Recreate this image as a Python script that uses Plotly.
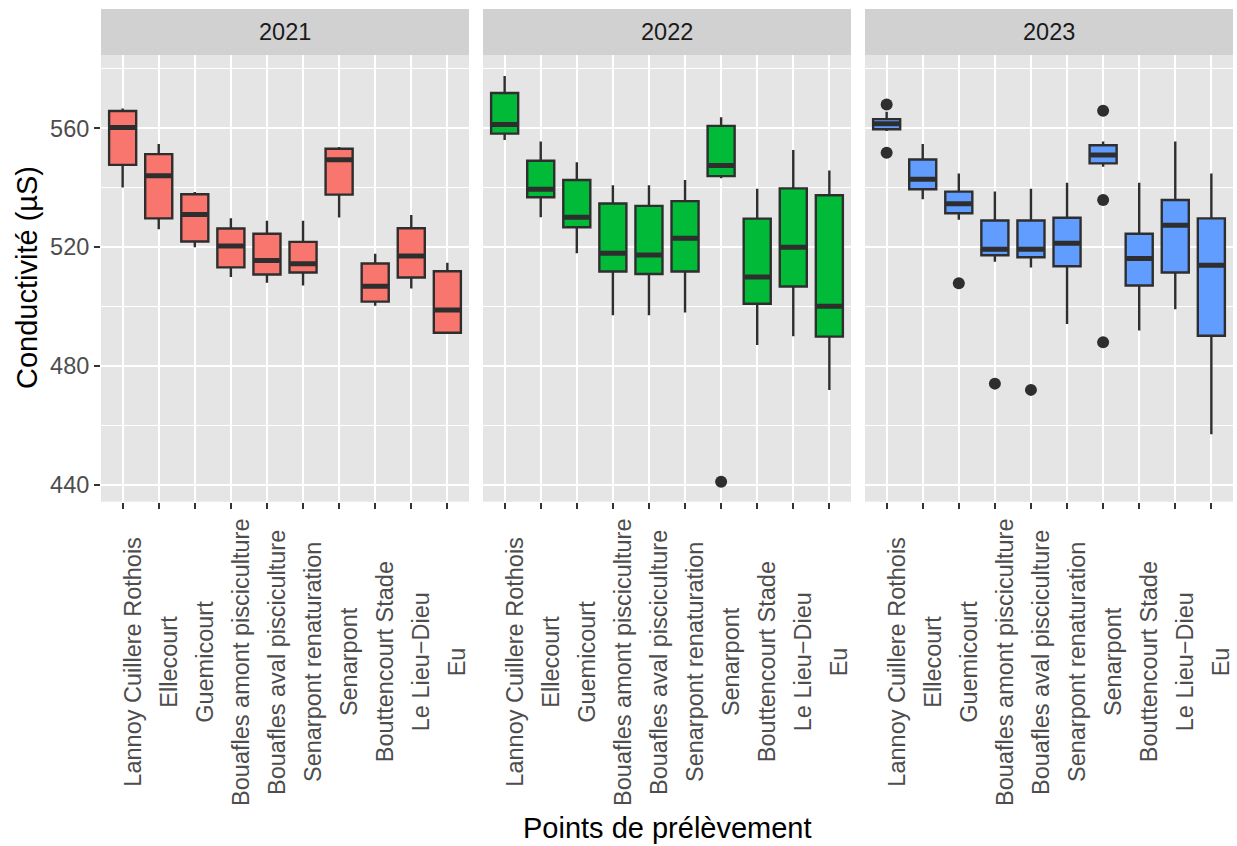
import plotly.graph_objects as go

# ---------------- data ----------------
stations = ["Lannoy Cuillere Rothois", "Ellecourt", "Guemicourt",
            "Bouafles amont pisciculture", "Bouafles aval pisciculture",
            "Senarpont renaturation", "Senarpont", "Bouttencourt Stade",
            "Le Lieu\u2212Dieu", "Eu"]
years = ["2021", "2022", "2023"]
colors = ["#F8766D", "#00BA38", "#619CFF"]

low_2021 = [540.1, 526.0, 520.0, 510.0, 508.0, 507.1, 530.0, 500.3, 506.1, 491.2]
q1_2021 = [547.7, 529.7, 521.9, 513.2, 510.8, 511.5, 537.7, 501.7, 509.8, 491.2]
med_2021 = [560.3, 544.0, 531.0, 520.4, 515.5, 514.4, 549.4, 506.9, 517.0, 498.9]
q3_2021 = [565.8, 551.3, 537.8, 526.3, 524.5, 521.8, 553.1, 514.5, 526.4, 511.9]
high_2021 = [566.7, 554.7, 538.6, 529.7, 528.9, 528.9, 553.7, 517.8, 530.8, 514.8]

low_2022 = [556.1, 530.1, 518.0, 497.1, 497.1, 498.0, 543.2, 487.1, 490.0, 472.0]
q1_2022 = [558.2, 536.8, 526.7, 511.8, 511.0, 511.8, 543.9, 501.0, 506.8, 489.9]
med_2022 = [561.3, 539.5, 530.1, 518.0, 517.4, 523.0, 547.5, 510.0, 520.0, 500.1]
q3_2022 = [571.9, 549.1, 542.6, 534.7, 533.9, 535.5, 560.8, 529.6, 539.8, 537.5]
high_2022 = [577.6, 555.6, 548.6, 540.8, 540.8, 542.6, 563.7, 539.7, 552.7, 545.8]

low_2023 = [559.1, 536.1, 529.2, 515.1, 513.2, 494.2, 547.1, 492.0, 499.1, 457.1]
q1_2023 = [559.7, 539.5, 531.4, 517.3, 516.6, 513.6, 548.2, 507.1, 511.5, 490.2]
med_2023 = [561.5, 542.9, 534.6, 519.3, 519.3, 521.3, 551.0, 516.2, 527.4, 513.9]
q3_2023 = [563.1, 549.5, 538.7, 529.0, 529.0, 529.9, 554.3, 524.5, 535.9, 529.7]
high_2023 = [565.6, 554.7, 544.8, 538.7, 539.7, 541.7, 555.6, 541.7, 555.6, 544.8]

# outliers: (station index, value)
out_idx_2021, out_val_2021 = [], []
out_idx_2022, out_val_2022 = [6], [441.1]
out_idx_2023 = [0, 0, 2, 3, 4, 6, 6, 6]
out_val_2023 = [568.0, 551.8, 507.9, 474.1, 472.0, 565.9, 535.9, 488.0]

y_ticks = [440, 480, 520, 560]
y_minor = [460, 500, 540, 580]
y_title = "Conductivit\u00e9 (\u00b5S)"
x_title = "Points de pr\u00e9l\u00e8vement"

stats = [
    (low_2021, q1_2021, med_2021, q3_2021, high_2021, out_idx_2021, out_val_2021),
    (low_2022, q1_2022, med_2022, q3_2022, high_2022, out_idx_2022, out_val_2022),
    (low_2023, q1_2023, med_2023, q3_2023, high_2023, out_idx_2023, out_val_2023),
]

# ---------------- layout geometry ----------------
W, H = 1237, 846
panels_px = [(101, 469), (483, 851), (865, 1233)]
panel_top, panel_bot = 55, 501.7
strip_top = 9
FONT = "Liberation Sans, Arial, sans-serif"
BOX_W = 0.75
LINE = "#2E2E2E"

fig = go.Figure()
idx = list(range(len(stations)))

for p, (yr, col, st) in enumerate(zip(years, colors, stats)):
    low, q1, med, q3, high, oi, ov = st
    xa = "x" if p == 0 else f"x{p+1}"
    ya = "y" if p == 0 else f"y{p+1}"
    fig.add_trace(go.Box(
        x=idx, q1=q1, median=med, q3=q3, lowerfence=low, upperfence=high,
        width=BOX_W, whiskerwidth=0, fillcolor=col,
        line=dict(color=LINE, width=2.4), boxpoints=False,
        xaxis=xa, yaxis=ya, showlegend=False, hoverinfo="skip"))
    # thick median segments
    mx, my = [], []
    for i, m in zip(idx, med):
        mx += [i - BOX_W / 2 + 0.02, i + BOX_W / 2 - 0.02, None]
        my += [m, m, None]
    fig.add_trace(go.Scatter(x=mx, y=my, mode="lines",
                             line=dict(color=LINE, width=5),
                             xaxis=xa, yaxis=ya, showlegend=False, hoverinfo="skip"))
    if oi:
        fig.add_trace(go.Scatter(x=oi, y=ov, mode="markers",
                                 marker=dict(color=LINE, size=12),
                                 xaxis=xa, yaxis=ya, showlegend=False, hoverinfo="skip"))

layout = dict(
    width=W, height=H,
    margin=dict(l=0, r=0, t=0, b=0),
    paper_bgcolor="white", plot_bgcolor="#E5E5E5",
    font=dict(family=FONT, color="#4D4D4D"),
    shapes=[], annotations=[],
)

yd = [1 - panel_bot / H, 1 - panel_top / H]
for p, (x0, x1) in enumerate(panels_px):
    sfx = "" if p == 0 else str(p + 1)
    layout[f"xaxis{sfx}"] = dict(
        domain=[x0 / W, x1 / W], range=[-0.6, len(stations) - 0.4],
        tickmode="array", tickvals=idx, showticklabels=False,
        ticks="outside", ticklen=6, tickwidth=2, tickcolor="#333333",
        showgrid=True, gridcolor="white", gridwidth=2.2,
        zeroline=False, showline=False,
        anchor="y" if p == 0 else f"y{p+1}")
    ydict = dict(
        domain=yd, range=[434.38, 584.66],
        tickmode="array", tickvals=y_ticks,
        showgrid=True, gridcolor="white", gridwidth=2.2,
        minor=dict(tickmode="array", tickvals=y_minor, showgrid=True,
                   gridcolor="white", gridwidth=1.1, ticks=""),
        zeroline=False, showline=False,
        anchor="x" if p == 0 else f"x{p+1}")
    if p == 0:
        ydict.update(ticks="outside", ticklen=6, tickwidth=2, tickcolor="#333333",
                     tickfont=dict(size=23.5, color="#4D4D4D", family=FONT))
    else:
        ydict.update(matches="y", showticklabels=False, ticks="")
    layout[f"yaxis{sfx}"] = ydict

    # strip
    layout["shapes"].append(dict(type="rect", xref="paper", yref="paper",
                                 x0=x0 / W, x1=x1 / W,
                                 y0=1 - panel_top / H, y1=1 - strip_top / H,
                                 fillcolor="#D1D1D1", line=dict(width=0), layer="below"))
    layout["annotations"].append(dict(
        text=years[p], xref="paper", yref="paper",
        x=(x0 + x1) / 2 / W, y=1 - (strip_top + panel_top) / 2 / H,
        xanchor="center", yanchor="middle", showarrow=False,
        font=dict(size=23.5, color="#1A1A1A", family=FONT)))
    # rotated category labels (centered)
    for i, name in enumerate(stations):
        layout["annotations"].append(dict(
            text=name, xref="x" if p == 0 else f"x{p+1}", yref="paper",
            x=i, y=1 - 662 / H, xanchor="center", yanchor="middle",
            textangle=-90, showarrow=False, xshift=10,
            font=dict(size=23.5, color="#4D4D4D", family=FONT)))

layout["annotations"].append(dict(
    text=y_title, xref="paper", yref="paper", x=27 / W, y=1 - 278 / H,
    xanchor="center", yanchor="middle", textangle=-90, showarrow=False,
    font=dict(size=29, color="black", family=FONT)))
layout["annotations"].append(dict(
    text=x_title, xref="paper", yref="paper", x=667 / W, y=1 - 828 / H,
    xanchor="center", yanchor="middle", showarrow=False,
    font=dict(size=29, color="black", family=FONT)))

fig.update_layout(**layout)
fig.write_html("out.html", config={"displayModeBar": False},
               post_script="document.body.style.margin='0';document.body.style.overflow='hidden';")
